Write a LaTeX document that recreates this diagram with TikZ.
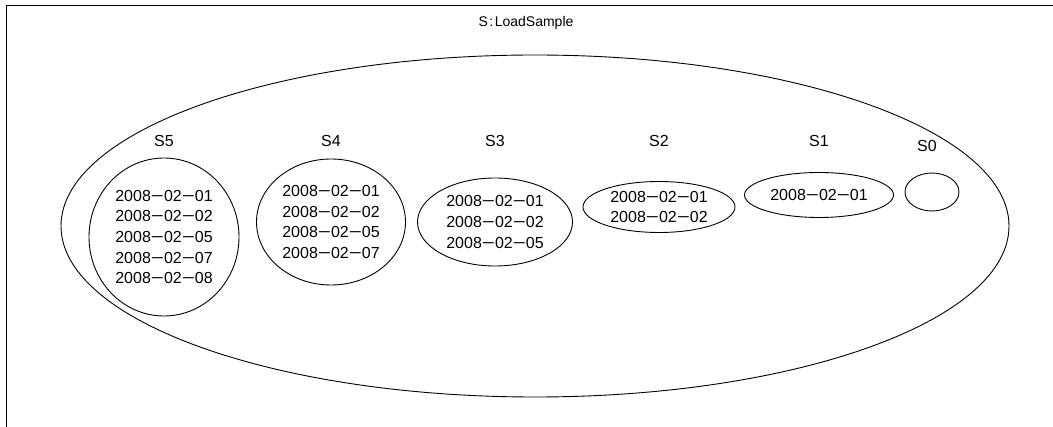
\documentclass[tikz,border=0pt]{standalone}
\usepackage{graphicx}
\usepackage{fontspec}
\setmainfont{Liberation Sans}
\usetikzlibrary{shapes.geometric}
\newcommand{\dm}{\scalebox{1.4}[1]{−}}

\begin{document}
\begin{tikzpicture}[x=1pt,y=-1pt,
                    line width=0.9pt,
                    set node/.style={ellipse,draw,inner sep=0pt,align=center,
                                     font=\fontsize{16}{20.6}\selectfont},
                    name node/.style={font=\fontsize{16}{18}\selectfont}]

  \useasboundingbox (0,0) rectangle (1053,427);
  \coordinate (tr) at (1053,5);
  \coordinate (tl) at (6.5,5);
  \coordinate (bl) at (6.5,427);
  \draw (tr) -- (tl) -- (bl);

  \node[font=\fontsize{14}{16}\selectfont] (title) at (526,23) {S\kern1.5pt:\kern1.5ptLoadSample};
  \node[set node,minimum width=948pt,minimum height=342pt] (all) at (535,226) {};

  \node[set node,minimum width=150pt,minimum height=158pt] (s5) at (164,237)
    {2008\dm02\dm01\\2008\dm02\dm02\\2008\dm02\dm05\\2008\dm02\dm07\\2008\dm02\dm08};
  \node[set node,minimum width=149pt,minimum height=126pt] (s4) at (331,222)
    {2008\dm02\dm01\\2008\dm02\dm02\\2008\dm02\dm05\\2008\dm02\dm07};
  \node[set node,minimum width=155pt,minimum height=88pt] (s3) at (495,222)
    {2008\dm02\dm01\\2008\dm02\dm02\\2008\dm02\dm05};
  \node[set node,minimum width=152pt,minimum height=51pt] (s2) at (659,207)
    {2008\dm02\dm01\\2008\dm02\dm02};
  \node[set node,minimum width=149pt,minimum height=45pt] (s1) at (819,195)
    {2008\dm02\dm01};
  \node[set node,minimum width=54pt,minimum height=38pt] (s0) at (932,192) {};

  \node[name node] (n5) at (164,141) {S5};
  \node[name node] (n4) at (331,141) {S4};
  \node[name node] (n3) at (495,141) {S3};
  \node[name node] (n2) at (659,141) {S2};
  \node[name node] (n1) at (819,141) {S1};
  \node[name node] (n0) at (927,146) {S0};
\end{tikzpicture}
\end{document}
